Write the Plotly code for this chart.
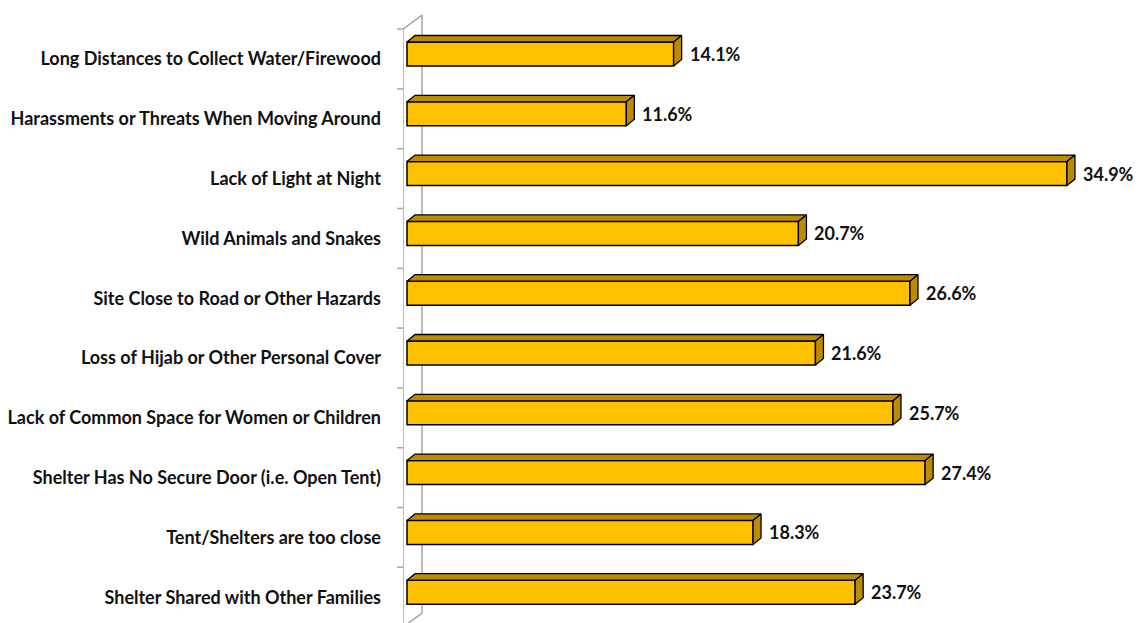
import plotly.graph_objects as go

categories = [
    "Long Distances to Collect Water/Firewood",
    "Harassments or Threats When Moving Around",
    "Lack of Light at Night",
    "Wild Animals and Snakes",
    "Site Close to Road or Other Hazards",
    "Loss of Hijab or Other Personal Cover",
    "Lack of Common Space for Women or Children",
    "Shelter Has No Secure Door (i.e. Open Tent)",
    "Tent/Shelters are too close",
    "Shelter Shared with Other Families",
]
values = [14.1, 11.6, 34.9, 20.7, 26.6, 21.6, 25.7, 27.4, 18.3, 23.7]
value_labels = ["14.1%", "11.6%", "34.9%", "20.7%", "26.6%", "21.6%", "25.7%", "27.4%", "18.3%", "23.7%"]

n = len(categories)
pos = [n - 1 - i for i in range(n)]  # top category highest

# geometry (axis units)
PX_X = 18.91          # px per percent
PX_Y = 59.8           # px per category
W, H = 1144, 623
ML, MT = 403, 10
plot_w = W - ML
plot_h = H - MT
x_min = -4 / PX_X
x_max = x_min + plot_w / PX_X
y_max = (n - 1) + 49 / PX_Y
y_min = y_max - plot_h / PX_Y

bar_w = 24 / PX_Y
shift = 5 / PX_Y
dx = 8 / PX_X
dy = 6.5 / PX_Y

FRONT = "#FFC000"
SIDE = "#BC8C00"
EDGE = "#000000"
WALL = "#A6A6A6"
FONT = "Lato"
TXT = "#111111"

fig = go.Figure()

fig.add_trace(go.Bar(
    x=values, y=pos, orientation="h",
    width=bar_w, offset=shift - bar_w / 2,
    marker=dict(color=FRONT, line=dict(color=EDGE, width=1.5)),
    hoverinfo="skip", showlegend=False,
))

for v, p in zip(values, pos):
    yb = p + shift - bar_w / 2
    yt = p + shift + bar_w / 2
    # top face
    fig.add_trace(go.Scatter(
        x=[0, v, v + dx, dx, 0], y=[yt, yt, yt + dy, yt + dy, yt],
        mode="lines", fill="toself", fillcolor=SIDE,
        line=dict(color=EDGE, width=1.3), hoverinfo="skip", showlegend=False,
    ))
    # right face
    fig.add_trace(go.Scatter(
        x=[v, v, v + dx, v + dx, v], y=[yb, yt, yt + dy, yb + dy, yb],
        mode="lines", fill="toself", fillcolor=SIDE,
        line=dict(color=EDGE, width=1.3), hoverinfo="skip", showlegend=False,
    ))

for v, p, t in zip(values, pos, value_labels):
    fig.add_annotation(
        x=v, y=p + shift, text="<b>%s</b>" % t, showarrow=False,
        xanchor="left", yanchor="middle", xshift=14,
        font=dict(family=FONT, size=18, color=TXT),
    )

# 3D wall lines
wall_dx = 19 / PX_X
back_top = (n - 0.5) + 14 / PX_Y
back_bot = -0.5 + 14 / PX_Y
shapes = [
    dict(type="line", xref="x", yref="y", x0=x_min, x1=x_min, y0=n - 0.5, y1=y_min,
         line=dict(color=WALL, width=1.5), layer="below"),
    dict(type="line", xref="x", yref="y", x0=x_min + wall_dx, x1=x_min + wall_dx,
         y0=back_top, y1=back_bot, line=dict(color=WALL, width=1.5), layer="below"),
    dict(type="line", xref="x", yref="y", x0=x_min, x1=x_min + wall_dx,
         y0=n - 0.5, y1=back_top, line=dict(color=WALL, width=1.5), layer="below"),
    dict(type="line", xref="x", yref="y", x0=x_min, x1=x_min + wall_dx,
         y0=-0.5, y1=back_bot, line=dict(color=WALL, width=1.5), layer="below"),
]
for k in range(n + 1):
    shapes.append(dict(type="line", xref="paper", yref="y", x0=-6 / plot_w, x1=0,
                       y0=k - 0.5, y1=k - 0.5, line=dict(color=WALL, width=1.5)))

fig.update_layout(
    width=W, height=H,
    margin=dict(l=ML, r=0, t=MT, b=0, pad=0),
    paper_bgcolor="white", plot_bgcolor="white",
    shapes=shapes,
    showlegend=False,
    xaxis=dict(range=[x_min, x_max], visible=False, fixedrange=True),
    yaxis=dict(range=[y_min, y_max], tickvals=pos, ticktext=["<b>%s</b>" % c for c in categories],
               showgrid=False, zeroline=False, showline=False, ticks="",
               ticklabelstandoff=21, tickfont=dict(family=FONT, size=18, color=TXT),
               fixedrange=True),
)

fig.write_html("out.html", config={"displayModeBar": False},
               post_script="document.body.style.margin='0';document.body.style.overflow='hidden';")
